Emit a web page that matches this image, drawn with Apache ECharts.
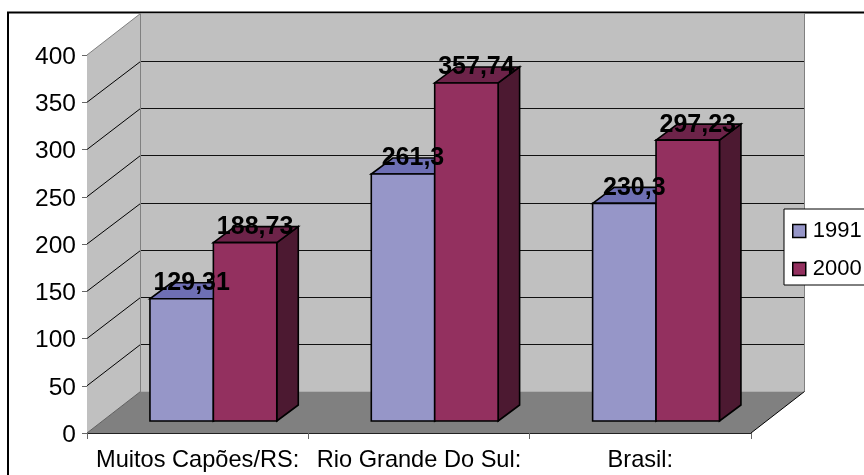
<!DOCTYPE html>
<html>
<head>
<meta charset="utf-8">
<style>html,body{margin:0;padding:0;background:#fff;overflow:hidden}#c{width:864px;height:475px}</style>
<script src="https://cdn.jsdelivr.net/npm/echarts@6/dist/echarts.min.js"></script>
</head>
<body>
<div id="c"></div>
<script>
// Grouped columns with a drawn box: walls, floor and extruded bars.
const categories = ['Muitos Capões/RS:', 'Rio Grande Do Sul:', 'Brasil:'];
const values1991 = [129.31, 261.3, 230.3];
const values2000 = [188.73, 357.74, 297.23];
const yTicks = [0, 50, 100, 150, 200, 250, 300, 350, 400];
const FONT = '"Liberation Sans", Arial, sans-serif';

// Oblique projection of the box and of each bar (pixels per full depth).
const BOX_DEPTH = [53.5, -41.5];
const BAR_INSET = [15.7, -12];
const BAR_DEPTH = [21.5, -16];
const BAR_SHARE = 0.2865;

const crisp = v => Math.round(v) + 0.5;

function poly(points, fill, stroke, lineWidth) {
  return { type: 'polygon', shape: { points }, style: { fill, stroke: stroke || 'none', lineWidth: lineWidth || 0 } };
}
function line(x1, y1, x2, y2, stroke) {
  return { type: 'line', shape: { x1, y1, x2, y2 }, style: { stroke, lineWidth: 1 } };
}

function renderBox(params, api) {
  const o = api.coord([0, 0]);
  const top = api.coord([0, 400])[1];
  const x0 = params.coordSys.x;
  const x1 = x0 + params.coordSys.width;
  const y0 = o[1];
  const dx = BOX_DEPTH[0], dy = BOX_DEPTH[1];
  const children = [
    poly([[x0 + dx, top + dy], [x1 + dx, top + dy], [x1 + dx, y0 + dy], [x0 + dx, y0 + dy]], '#c0c0c0'),
    poly([[x0, y0], [x0, top], [x0 + dx, top + dy], [x0 + dx, y0 + dy]], '#c0c0c0'),
    poly([[x0, y0], [x1, y0], [x1 + dx, y0 + dy], [x0 + dx, y0 + dy]], '#808080')
  ];
  yTicks.slice(1, -1).forEach(t => {
    const y = api.coord([0, t])[1];
    const by = crisp(y + dy);
    children.push(line(x0, y, x0 + dx, by, '#000'));
    children.push(line(x0 + dx, by, x1 + dx, by, '#111'));
  });
  children.push(line(x0, top, x0 + dx, top + dy, '#808080'));
  children.push(line(x0 + dx, top + dy, x0 + dx, y0 + dy, '#808080'));
  children.push(line(x1 + dx, top + dy, x1 + dx, y0 + dy, '#808080'));
  children.push(line(x0, y0, x0 + dx, y0 + dy, '#606060'));
  children.push(line(x1, y0, x1 + dx, y0 + dy, '#000'));
  return { type: 'group', children };
}

function barRenderer(seriesIndex, front, topFace, sideFace) {
  return function (params, api) {
    const cat = api.value(0);
    const val = api.value(1);
    const band = api.size([1, 0])[0];
    const w = band * BAR_SHARE;
    const center = api.coord([cat, 0])[0];
    const xl = center + BAR_INSET[0] + (seriesIndex - 1) * w;
    const xr = xl + w;
    const yb = api.coord([cat, 0])[1] + BAR_INSET[1];
    const yt = api.coord([cat, val])[1] + BAR_INSET[1];
    const dx = BAR_DEPTH[0], dy = BAR_DEPTH[1];
    return {
      type: 'group',
      children: [
        poly([[xr, yb], [xr + dx, yb + dy], [xr + dx, yt + dy], [xr, yt]], sideFace, '#000', 1.6),
        poly([[xl, yt], [xr, yt], [xr + dx, yt + dy], [xl + dx, yt + dy]], topFace, '#000', 1.6),
        poly([[xl, yb], [xr, yb], [xr, yt], [xl, yt]], front, '#000', 1.6),
        {
          type: 'text', z2: 20,
          style: {
            x: xl + w / 2 + 10, y: yt - 15.5,
            text: String(val).replace('.', ','),
            align: 'center', verticalAlign: 'middle',
            font: 'bold 25px ' + FONT, fill: '#000'
          }
        }
      ]
    };
  };
}

const rows = values => categories.map((c, i) => [c, values[i]]);
const chart = echarts.init(document.getElementById('c'), null, { renderer: 'canvas' });
chart.setOption({
  animation: false,
  backgroundColor: '#fff',
  textStyle: { fontFamily: FONT },
  grid: { left: 87, top: 55, width: 664, height: 378, containLabel: false },
  xAxis: {
    type: 'category', data: categories, boundaryGap: true,
    axisLine: { show: true, lineStyle: { color: '#222', width: 1 } },
    axisTick: { show: true, length: 6, lineStyle: { color: '#666' } },
    axisLabel: { color: '#000', fontSize: 23.6, fontFamily: FONT, margin: 15, interval: 0 },
    splitLine: { show: false }
  },
  yAxis: {
    type: 'value', min: 0, max: 400, interval: 50,
    axisLine: { show: true, lineStyle: { color: '#666', width: 1 } },
    axisTick: { show: true, length: 5, lineStyle: { color: '#666' } },
    axisLabel: {
      color: '#000', margin: 11,
      formatter: '{t|{value}}',
      rich: { t: { fontSize: 24.5, fontFamily: FONT, color: '#000', padding: [4, 0, 0, 0] } }
    },
    splitLine: { show: false }
  },
  legend: {
    left: 784, top: 209, orient: 'vertical', selectedMode: false,
    backgroundColor: '#fff', borderColor: '#000', borderWidth: 1,
    padding: [11, 8, 5, 8], itemGap: 16, itemWidth: 13, itemHeight: 13,
    textStyle: { color: '#000', fontSize: 22, fontFamily: FONT, padding: [0, 0, 0, 2] },
    data: [
      { name: '1991', icon: 'rect', itemStyle: { color: '#9696c8', borderColor: '#000', borderWidth: 1.5 } },
      { name: '2000', icon: 'rect', itemStyle: { color: '#93305f', borderColor: '#000', borderWidth: 1.5 } }
    ]
  },
  graphic: [{
    type: 'rect', silent: true, z: 0,
    shape: { x: 8, y: 12.5, width: 900, height: 500 },
    style: { fill: 'none', stroke: '#000', lineWidth: 2 }
  }],
  series: [
    { type: 'custom', name: 'box', z: 1, silent: true, data: [[categories[0], 0]], encode: { x: 0, y: 1 }, renderItem: renderBox },
    { type: 'custom', name: '1991', z: 2, silent: true, data: rows(values1991), encode: { x: 0, y: 1 }, itemStyle: { color: '#9696c8' },
      renderItem: barRenderer(0, '#9696c8', '#6e6fb4', '#4b4b80') },
    { type: 'custom', name: '2000', z: 2, silent: true, data: rows(values2000), encode: { x: 0, y: 1 }, itemStyle: { color: '#93305f' },
      renderItem: barRenderer(1, '#93305f', '#6d2349', '#4c1931') }
  ]
});
</script>
</body>
</html>
